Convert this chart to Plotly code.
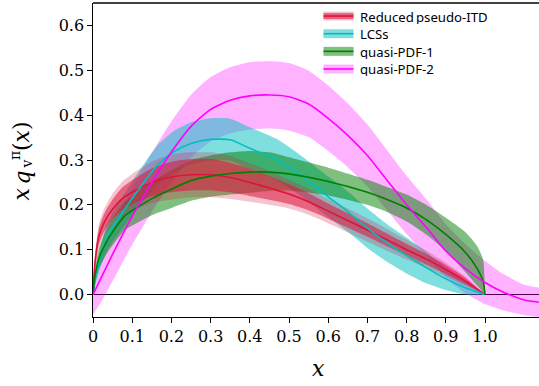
import plotly.graph_objects as go

# ---------------- data ----------------
red_x = [0, .005, .015, .03, .05, .075, .1, .15, .2, .25, .3, .35, .4, .5, .55, .6, .7, .8, .85, .9, .95, 1.0]
red_c = [0, .07, .13, .163, .19, .214, .228, .25, .262, .267, .267, .261, .25, .224, .207, .186, .144, .1, .079, .056, .03, 0]
red_hw_in = [0, .012, .017, .02, .022, .025, .027, .031, .034, .035, .035, .033, .03, .022, .019, .017, .015, .013, .012, .01, .007, 0]
red_hw_out = [0, .02, .027, .031, .035, .038, .041, .046, .05, .05, .05, .048, .043, .032, .029, .027, .026, .022, .019, .015, .01, 0]

cyan_x = [0, .005, .015, .033, .05, .08, .122, .165, .207, .25, .3, .35, .4, .47, .53, .6, .65, .7, .75, .8, .85, .9, .95, 1.0]
cyan_c = [0, .03, .07, .122, .15, .189, .241, .289, .319, .337, .346, .345, .326, .3, .265, .218, .185, .148, .115, .087, .06, .035, .015, 0]
cyan_hw = [0, .01, .02, .03, .033, .036, .04, .044, .046, .047, .047, .047, .047, .046, .045, .045, .045, .044, .042, .04, .035, .025, .015, 0]

green_x = [0, .005, .015, .037, .05, .08, .1, .15, .2, .25, .3, .35, .4, .45, .5, .6, .7, .75, .8, .85, .9, .95, .98, .995, 1.0]
green_c = [0, .04, .08, .122, .14, .175, .187, .214, .235, .254, .264, .27, .273, .273, .269, .252, .228, .212, .193, .167, .134, .094, .058, .03, 0]
green_lo = [0, .025, .058, .094, .11, .143, .154, .177, .193, .209, .218, .223, .227, .231, .232, .221, .2, .184, .163, .134, .097, .05, .02, .005, 0]
green_hi = [0, .055, .102, .15, .17, .207, .22, .251, .277, .299, .31, .317, .32, .317, .306, .283, .256, .24, .223, .2, .171, .139, .108, .078, 0]

mag_x = [0, .025, .05, .075, .1, .125, .15, .175, .2, .25, .3, .35, .4, .45, .5, .55, .6, .65, .7, .75, .8, .85, .9, .95, 1.0, 1.05, 1.1, 1.1377]
mag_c = [0, .045, .09, .133, .175, .213, .25, .285, .318, .375, .413, .433, .443, .445, .441, .425, .393, .355, .31, .255, .2, .15, .097, .058, .027, .004, -.012, -.017]
mag_hw = [.045, .055, .06, .062, .064, .065, .066, .067, .068, .07, .072, .074, .075, .075, .075, .074, .073, .071, .069, .067, .065, .063, .06, .055, .048, .04, .034, .033]

labels = ["Reduced\u2009pseudo-ITD", "LCSs", "quasi-PDF-1", "quasi-PDF-2"]
x_ticks = [0, .1, .2, .3, .4, .5, .6, .7, .8, .9, 1.0]
x_ticklabels = ["0", "0.1", "0.2", "0.3", "0.4", "0.5", "0.6", "0.7", "0.8", "0.9", "1.0"]
y_ticks = [0, .1, .2, .3, .4, .5, .6]
y_ticklabels = ["0.0", "0.1", "0.2", "0.3", "0.4", "0.5", "0.6"]

# ---------------- styles ----------------
RED = "rgb(220,20,60)"
CYAN = "rgb(0,191,191)"
GREEN = "rgb(0,128,0)"
MAG = "rgb(255,0,255)"
RED_OUT = "rgba(220,20,60,0.25)"
RED_IN = "rgba(220,20,60,0.55)"
CYAN_B = "rgba(0,191,191,0.5)"
GREEN_B = "rgba(0,128,0,0.5)"
MAG_B = "rgba(255,0,255,0.3)"
SM = 0.6

fig = go.Figure()


def band(x, lo, hi, color):
    fig.add_trace(go.Scatter(x=x, y=lo, mode="lines", line=dict(width=0, shape="spline", smoothing=SM),
                             showlegend=False, hoverinfo="skip"))
    fig.add_trace(go.Scatter(x=x, y=hi, mode="lines", line=dict(width=0, shape="spline", smoothing=SM),
                             fill="tonexty", fillcolor=color, showlegend=False, hoverinfo="skip"))


band(mag_x, [c - h for c, h in zip(mag_c, mag_hw)], [c + h for c, h in zip(mag_c, mag_hw)], MAG_B)
band(cyan_x, [c - h for c, h in zip(cyan_c, cyan_hw)], [c + h for c, h in zip(cyan_c, cyan_hw)], CYAN_B)
band(green_x, green_lo, green_hi, GREEN_B)
band(red_x, [c - h for c, h in zip(red_c, red_hw_out)], [c + h for c, h in zip(red_c, red_hw_out)], RED_OUT)
band(red_x, [c - h for c, h in zip(red_c, red_hw_in)], [c + h for c, h in zip(red_c, red_hw_in)], RED_IN)

for x, c, col in [(red_x, red_c, RED), (cyan_x, cyan_c, CYAN), (green_x, green_c, GREEN), (mag_x, mag_c, MAG)]:
    fig.add_trace(go.Scatter(x=x, y=c, mode="lines", line=dict(color=col, width=1.6, shape="spline", smoothing=SM),
                             showlegend=False))

W, H = 539, 386
L, R, T, B = 93, 0, 2.5, 68.5
pw, ph = W - L - R, H - T - B


def px(xp):
    return (xp - L) / pw


def py(yp):
    return (H - B - yp) / ph


shapes = []
annotations = []
# top spine
shapes.append(dict(type="line", xref="paper", yref="paper", x0=0, x1=1, y0=1, y1=1,
                   line=dict(color="black", width=1.3)))

# manual legend
rows = [15.6, 33.3, 51.0, 68.7]
cols = [(RED_OUT, RED), (CYAN_B, CYAN), (GREEN_B, GREEN), (MAG_B, MAG)]
for i, (yc, (fc, lc)) in enumerate(zip(rows, cols)):
    shapes.append(dict(type="rect", xref="paper", yref="paper", x0=px(323.5), x1=px(353.5),
                       y0=py(yc - 4.5), y1=py(yc + 4.5), fillcolor=fc, line=dict(width=0)))
    if i == 0:
        shapes.append(dict(type="rect", xref="paper", yref="paper", x0=px(323.5), x1=px(353.5),
                           y0=py(yc - 3), y1=py(yc + 3), fillcolor=RED_IN, line=dict(width=0)))
    shapes.append(dict(type="line", xref="paper", yref="paper", x0=px(323.5), x1=px(353.5),
                       y0=py(yc), y1=py(yc), line=dict(color=lc, width=1.6)))
    annotations.append(dict(xref="paper", yref="paper", x=px(358.5), y=py(yc), text=labels[i],
                            showarrow=False, xanchor="left", yanchor="middle", height=15, valign="middle",
                            borderpad=0, font=dict(family="Noto Sans", size=13.2, color="black")))

SERIF = "DejaVu Serif"
# x axis title
annotations.append(dict(xref="paper", yref="paper", x=px(318), y=py(369), text="<i>x</i>",
                        showarrow=False, xanchor="center", yanchor="middle",
                        font=dict(family=SERIF, size=22, color="black")))
# y axis title, built from pieces so that the sub- and superscript stack
ylab_parts = [
    ("<i>x</i>", 21, 194.5, 22),
    ("<i>q</i>", 22, 177.5, 22),
    ("π", 14.5, 155.5, 14),
    ("v", 26.5, 164, 14),
    ("(<i>x</i>)", 21, 136, 22),
]
for txt, xc, yc, fs in ylab_parts:
    annotations.append(dict(xref="paper", yref="paper", x=px(xc), y=py(yc), text=txt,
                            showarrow=False, xanchor="center", yanchor="middle", textangle=-90,
                            font=dict(family=SERIF, size=fs, color="black")))

fig.update_layout(
    width=W, height=H, margin=dict(l=L, r=R, t=T, b=B, pad=0, autoexpand=False),
    plot_bgcolor="white", paper_bgcolor="white", showlegend=False,
    shapes=shapes, annotations=annotations,
    xaxis=dict(range=[0, 1.1377], tickvals=x_ticks, ticktext=x_ticklabels, showgrid=False, zeroline=False,
               automargin=False,
               showline=True, linecolor="black", linewidth=1.3, ticks="outside", ticklen=4.5, tickwidth=1.2,
               tickcolor="black", tickfont=dict(family=SERIF, size=16, color="black")),
    yaxis=dict(range=[-0.05, 0.65], tickvals=y_ticks, ticktext=y_ticklabels, showgrid=False,
               automargin=False,
               zeroline=True, zerolinecolor="black", zerolinewidth=1.3,
               showline=True, linecolor="black", linewidth=1.3, ticks="outside", ticklen=4.5, tickwidth=1.2,
               tickcolor="black", tickfont=dict(family=SERIF, size=16, color="black")),
)

fig.write_html("out.html", config={"displayModeBar": False},
               post_script="document.body.style.margin='0px';document.body.style.overflow='hidden';")
